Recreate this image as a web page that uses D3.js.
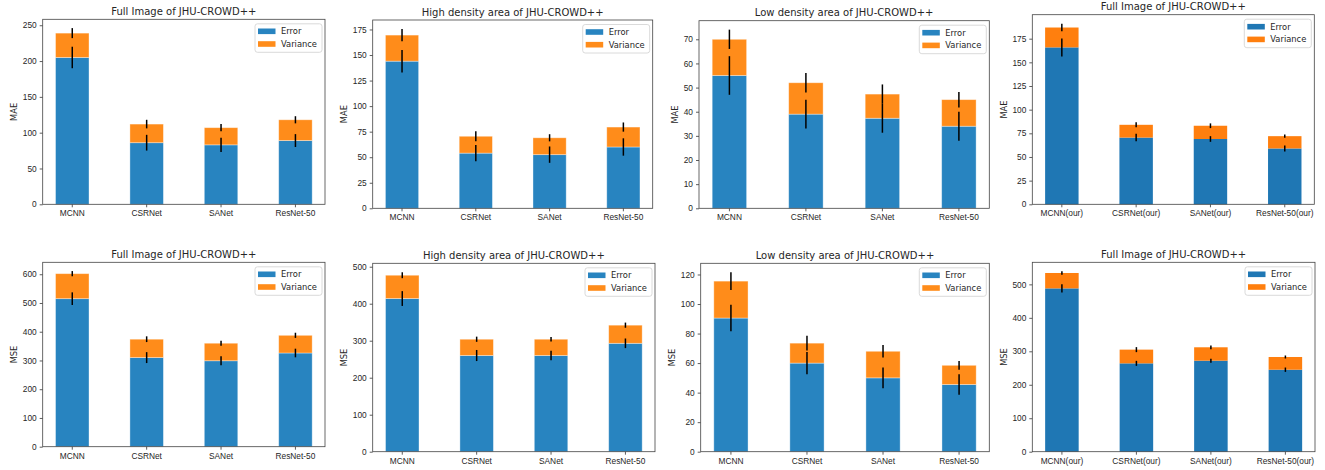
<!DOCTYPE html>
<html lang="en">
<head>
  <meta charset="UTF-8" />
  <title>JHU-CROWD++ error / variance bars</title>
  <script src="https://d3js.org/d3.v7.min.js"></script>
  <style>
    body {
      margin: 0;
      background: white;
      font-family: "DejaVu Sans", sans-serif;
    }

    .axis text {
      font-size: 8.33px;
      fill: #262626;
    }

    .axis line {
      stroke: #333;
      stroke-width: 0.8px;
    }

    .axis path {
      display: none;
    }

    .spine {
      fill: none;
      stroke: #444;
      stroke-width: 0.8px;
    }

    .title {
      font-size: 10px;
      fill: #262626;
      text-anchor: middle;
    }

    .ylabel {
      font-size: 8.33px;
      fill: #262626;
      text-anchor: middle;
    }

    .legend-label {
      font-size: 8.33px;
      fill: #262626;
    }

    .err-bar {
      stroke: #000;
      stroke-width: 1.5px;
    }
  </style>
</head>
<body>
  <svg width="1325" height="470"></svg>

  <script>
    const categories = ["MCNN", "CSRNet", "SANet", "ResNet-50"];
    const categoriesOur = ["MCNN(our)", "CSRNet(our)", "SANet(our)", "ResNet-50(our)"];

    // MAE, full image
    const maeFullError = [205, 86, 83, 89];
    const maeFullVariance = [34, 26, 24, 29];
    const maeFullErrorStd = [15, 11, 10, 9];
    const maeFullVarianceStd = [7, 6, 5, 5];
    const maeFullTicks = [0, 50, 100, 150, 200, 250];

    // MAE, high density area
    const maeHighError = [144, 54, 52.5, 60];
    const maeHighVariance = [25.5, 16.5, 16.5, 19.5];
    const maeHighErrorStd = [11, 8, 8, 8.5];
    const maeHighVarianceStd = [6, 5, 3.5, 4.5];
    const maeHighTicks = [0, 25, 50, 75, 100, 125, 150, 175];

    // MAE, low density area
    const maeLowError = [55, 39, 37.3, 34];
    const maeLowVariance = [15, 13, 10, 11];
    const maeLowErrorStd = [8, 6, 6, 6];
    const maeLowVarianceStd = [4, 4, 4, 3.2];
    const maeLowTicks = [0, 10, 20, 30, 40, 50, 60, 70];

    // MAE, full image, our models
    const maeOurError = [165.8, 70.5, 69, 59];
    const maeOurVariance = [21, 13.5, 14, 13];
    const maeOurErrorStd = [9.5, 4, 3, 3.2];
    const maeOurVarianceStd = [4, 2.7, 2.5, 1.8];
    const maeOurTicks = [0, 25, 50, 75, 100, 125, 150, 175];

    // MSE, full image
    const mseFullError = [515, 310, 299, 326];
    const mseFullVariance = [87, 64, 61, 61.5];
    const mseFullErrorStd = [22, 19, 16, 15];
    const mseFullVarianceStd = [9, 10, 8.5, 9];
    const mseFullTicks = [0, 100, 200, 300, 400, 500, 600];

    // MSE, high density area
    const mseHighError = [414, 260, 260, 293];
    const mseHighVariance = [63, 44, 44, 49];
    const mseHighErrorStd = [20, 15, 13, 13];
    const mseHighVarianceStd = [8, 7, 6, 7];
    const mseHighTicks = [0, 100, 200, 300, 400, 500];

    // MSE, low density area
    const mseLowError = [90.5, 60, 50, 45.5];
    const mseLowVariance = [25, 13.5, 18, 13];
    const mseLowErrorStd = [9, 7.5, 7, 7];
    const mseLowVarianceStd = [6, 5, 4.2, 3];
    const mseLowTicks = [0, 20, 40, 60, 80, 100, 120];

    // MSE, full image, our models
    const mseOurError = [488, 264, 272, 245];
    const mseOurVariance = [46, 41, 40, 38];
    const mseOurErrorStd = [12, 7.5, 6, 6.5];
    const mseOurVarianceStd = [5, 7.5, 5.5, 4.5];
    const mseOurTicks = [0, 100, 200, 300, 400, 500];

    const softColors = { error: "#2884c0", variance: "#ff8c1a" };
    const plainColors = { error: "#1f77b4", variance: "#ff7f0e" };

    // axes boxes: [left, top, right, bottom]
    const panels = [
      { title: "Full Image of JHU-CROWD++", ylabel: "MAE", cats: categories,
        error: maeFullError, variance: maeFullVariance, errStd: maeFullErrorStd, varStd: maeFullVarianceStd,
        ticks: maeFullTicks, colors: softColors, box: [42.7, 19.3, 325, 204.3] },
      { title: "High density area of JHU-CROWD++", ylabel: "MAE", cats: categories,
        error: maeHighError, variance: maeHighVariance, errStd: maeHighErrorStd, varStd: maeHighVarianceStd,
        ticks: maeHighTicks, colors: softColors, box: [372.7, 20, 652.7, 208.3] },
      { title: "Low density area of JHU-CROWD++", ylabel: "MAE", cats: categories,
        error: maeLowError, variance: maeLowVariance, errStd: maeLowErrorStd, varStd: maeLowVarianceStd,
        ticks: maeLowTicks, colors: softColors, box: [699, 20.7, 989.3, 208.3] },
      { title: "Full Image of JHU-CROWD++", ylabel: "MAE", cats: categoriesOur,
        error: maeOurError, variance: maeOurVariance, errStd: maeOurErrorStd, varStd: maeOurVarianceStd,
        ticks: maeOurTicks, colors: plainColors, box: [1032.3, 14.7, 1314.3, 204.3] },
      { title: "Full Image of JHU-CROWD++", ylabel: "MSE", cats: categories,
        error: mseFullError, variance: mseFullVariance, errStd: mseFullErrorStd, varStd: mseFullVarianceStd,
        ticks: mseFullTicks, colors: softColors, box: [42.7, 262.3, 325, 446.7] },
      { title: "High density area of JHU-CROWD++", ylabel: "MSE", cats: categories,
        error: mseHighError, variance: mseHighVariance, errStd: mseHighErrorStd, varStd: mseHighVarianceStd,
        ticks: mseHighTicks, colors: softColors, box: [372.7, 263.3, 655, 451.7] },
      { title: "Low density area of JHU-CROWD++", ylabel: "MSE", cats: categories,
        error: mseLowError, variance: mseLowVariance, errStd: mseLowErrorStd, varStd: mseLowVarianceStd,
        ticks: mseLowTicks, colors: softColors, box: [700.7, 263.3, 989.3, 451.7] },
      { title: "Full Image of JHU-CROWD++", ylabel: "MSE", cats: categoriesOur,
        error: mseOurError, variance: mseOurVariance, errStd: mseOurErrorStd, varStd: mseOurVarianceStd,
        ticks: mseOurTicks, colors: plainColors, box: [1032.3, 262.3, 1315, 451.7] }
    ];

    const svg = d3.select("svg");

    function drawPanel(p) {
      const [left, top, right, bottom] = p.box;
      const w = right - left, h = bottom - top;
      const g = svg.append("g").attr("transform", `translate(${left},${top})`);

      const rows = p.cats.map((c, i) => ({
        cat: c,
        error: p.error[i],
        variance: p.variance[i],
        errStd: p.errStd[i],
        varStd: p.varStd[i]
      }));

      const x = d3.scaleBand()
        .domain(p.cats)
        .range([0, w])
        .paddingInner(0.55)
        .paddingOuter(0.1725);

      const yMax = d3.max(rows, d => d.error + d.variance + d.varStd) * 1.05;
      const y = d3.scaleLinear().domain([0, yMax]).range([h, 0]);

      const keys = ["error", "variance"];
      const stacked = d3.stack().keys(keys)(rows);

      // bars
      stacked.forEach(layer => {
        g.selectAll(null)
          .data(layer)
          .enter()
          .append("rect")
          .attr("x", d => x(d.data.cat))
          .attr("width", x.bandwidth())
          .attr("y", d => y(d[1]))
          .attr("height", d => y(d[0]) - y(d[1]))
          .attr("fill", p.colors[layer.key])
          .attr("stroke", p.colors === softColors ? "#ffffff" : "none")
          .attr("stroke-opacity", 0.45)
          .attr("stroke-width", 0.8);
      });

      // error bars centred on the top of each segment
      stacked.forEach(layer => {
        const stdKey = layer.key === "error" ? "errStd" : "varStd";
        g.selectAll(null)
          .data(layer)
          .enter()
          .append("line")
          .attr("class", "err-bar")
          .attr("x1", d => x(d.data.cat) + x.bandwidth() / 2)
          .attr("x2", d => x(d.data.cat) + x.bandwidth() / 2)
          .attr("y1", d => y(d[1] - d.data[stdKey]))
          .attr("y2", d => y(d[1] + d.data[stdKey]));
      });

      // axes
      const yAxis = g.append("g")
        .attr("class", "axis")
        .call(d3.axisLeft(y).tickValues(p.ticks).tickSize(3).tickPadding(3).tickFormat(d3.format("d")));

      g.append("g")
        .attr("class", "axis")
        .attr("transform", `translate(0,${h})`)
        .call(d3.axisBottom(x).tickSize(3).tickPadding(3));

      g.append("rect")
        .attr("class", "spine")
        .attr("width", w)
        .attr("height", h);

      // title
      g.append("text")
        .attr("class", "title")
        .attr("x", w / 2)
        .attr("y", -4.5)
        .text(p.title);

      // y label sits left of the widest tick label
      const bb = yAxis.node().getBBox();
      g.append("text")
        .attr("class", "ylabel")
        .attr("transform", `translate(${bb.x - 5.5},${h / 2}) rotate(-90)`)
        .text(p.ylabel);

      // legend
      const legW = 67, legH = 28.5;
      const leg = g.append("g").attr("transform", `translate(${w - legW - 3},4.5)`);
      leg.append("rect")
        .attr("width", legW)
        .attr("height", legH)
        .attr("rx", 2.5)
        .attr("fill", "white")
        .attr("fill-opacity", 0.8)
        .attr("stroke", "#d0d0d0")
        .attr("stroke-width", 0.8);

      keys.forEach((k, i) => {
        const rowY = 7.5 + i * 12.7;
        leg.append("rect")
          .attr("x", 3)
          .attr("y", rowY - 2.8)
          .attr("width", 17.5)
          .attr("height", 5.6)
          .attr("fill", p.colors[k]);
        leg.append("text")
          .attr("class", "legend-label")
          .attr("x", 26)
          .attr("y", rowY + 3)
          .text(k === "error" ? "Error" : "Variance");
      });
    }

    panels.forEach(drawPanel);
  </script>
</body>
</html>
